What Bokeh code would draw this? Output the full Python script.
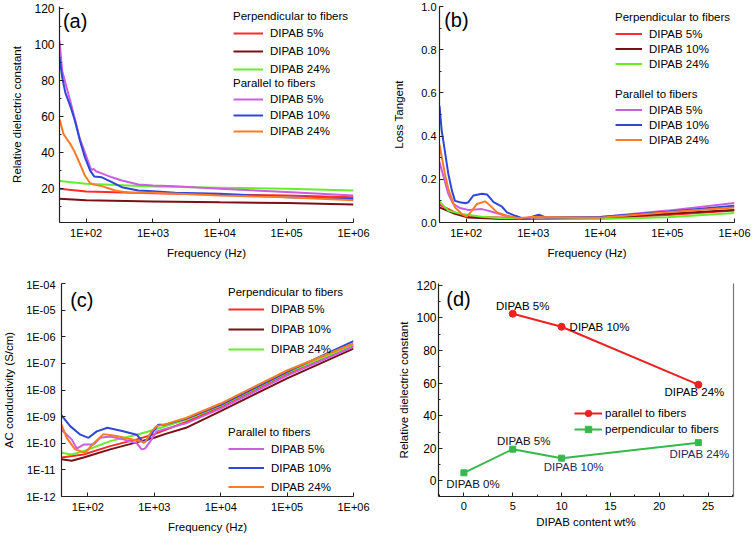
from bokeh.plotting import figure
from bokeh.models import (Range1d, FixedTicker, SingleIntervalTicker, CustomJSTickFormatter,
                          PrintfTickFormatter, Legend, LegendItem, Label, LinearAxis, ColumnDataSource)
from bokeh.layouts import column, row
from bokeh.embed import file_html
from bokeh.resources import INLINE
from bokeh.core.properties import value

FONT = "Liberation Sans"

# ---------------- data ----------------
freq_ticks = [1e2, 1e3, 1e4, 1e5, 1e6]
cond_ticks = [1e-12, 1e-11, 1e-10, 1e-9, 1e-8, 1e-7, 1e-6, 1e-5, 1e-4]

# (a) relative dielectric constant vs frequency
a_perp_freq = [40, 100, 1000, 1e4, 1e5, 1e6]
a_perp_5 = [19.7, 18.2, 17.3, 16.6, 16.0, 15.0]
a_perp_10 = [14.2, 13.3, 12.7, 12.2, 11.8, 11.0]
a_perp_24 = [24.0, 22.5, 21.0, 20.3, 19.7, 18.8]

a_par5_freq = [40, 44, 58, 81, 96, 115, 122, 130, 140, 172, 243, 342, 605, 1000, 2150, 1e4, 1e5, 1e6]
a_par_5 = [102, 85, 68.5, 47.3, 40, 31.7, 30.2, 30.8, 29.5, 28.3, 26.1, 24.3, 22.1, 21.5, 21.2, 19.7, 17.9, 16.0]
a_par10_freq = [40, 44, 49, 58, 68, 81, 96, 115, 133, 172, 243, 342, 605, 1000, 2150, 1e4, 1e5, 1e6]
a_par_10 = [93, 81.4, 73, 65.7, 57.5, 46.4, 37.2, 29.8, 26.5, 26.1, 23.4, 20.6, 18.8, 18.4, 17.5, 17.0, 15.0, 14.0]
a_par24_freq = [40, 46, 58, 68, 81, 96, 115, 135, 172, 272, 430, 1000, 1e4, 1e5, 1e6]
a_par_24 = [58.4, 50.1, 44.6, 40.0, 33.5, 27.1, 22.8, 21.9, 21.2, 18.8, 17.5, 17.5, 16.0, 15.0, 13.3]

# (b) loss tangent vs frequency
b_perp5_freq = [40, 68, 108, 1000, 1e4, 1e5, 1e6]
b_perp_5 = [0.083, 0.047, 0.027, 0.020, 0.020, 0.035, 0.055]
b_perp10_freq = [40, 68, 108, 342, 1000, 1e4, 1e5, 1e6]
b_perp_10 = [0.070, 0.040, 0.023, 0.016, 0.016, 0.020, 0.040, 0.058]
b_perp24_freq = [40, 54, 86, 172, 342, 1000, 1e4, 1e5, 1e6]
b_perp_24 = [0.098, 0.055, 0.039, 0.027, 0.020, 0.018, 0.016, 0.024, 0.044]

b_par5_freq = [40, 54, 64, 81, 108, 172, 242, 384, 681, 1000, 1e4, 1e5, 1e6]
b_par_5 = [0.28, 0.133, 0.086, 0.067, 0.058, 0.062, 0.050, 0.031, 0.020, 0.022, 0.025, 0.055, 0.090]
b_par10_freq = [40, 43, 54, 61, 68, 81, 97, 108, 128, 172, 204, 256, 342, 406, 541, 722, 964, 1212, 1530,
                1e4, 1e5, 1e6]
b_par_10 = [0.54, 0.43, 0.227, 0.15, 0.10, 0.094, 0.089, 0.094, 0.125, 0.133, 0.130, 0.094, 0.073, 0.047,
            0.031, 0.016, 0.027, 0.036, 0.023, 0.025, 0.050, 0.078]
b_par24_freq = [40, 48, 54, 68, 86, 102, 122, 145, 192, 229, 288, 406, 606, 964, 1e4, 1e5, 1e6]
b_par_24 = [0.36, 0.227, 0.156, 0.070, 0.039, 0.027, 0.055, 0.086, 0.098, 0.078, 0.047, 0.031, 0.020,
            0.025, 0.022, 0.047, 0.070]

# (c) AC conductivity vs frequency
c_perp5_freq = [40, 86, 216, 543, 1000, 3000, 1e4, 1e5, 1e6]
c_perp_5 = [2.9e-11, 3.8e-11, 7.8e-11, 1.4e-10, 2.2e-10, 6.3e-10, 2.3e-9, 4.0e-8, 4.6e-7]
c_perp10_freq = [40, 57, 86, 216, 800, 1000, 1440, 3000, 1e4, 1e5, 1e6]
c_perp_10 = [2.5e-11, 2.2e-11, 2.9e-11, 5.9e-11, 1.4e-10, 1.6e-10, 2.2e-10, 3.8e-10, 1.6e-9, 2.75e-8, 3.6e-7]
c_perp24_freq = [40, 57, 86, 216, 543, 1000, 3000, 1e4, 1e5, 1e6]
c_perp_24 = [4.4e-11, 3.8e-11, 5.0e-11, 1.2e-10, 2.1e-10, 3.2e-10, 7.6e-10, 2.6e-9, 4.5e-8, 5.0e-7]

c_par5_freq = [40, 57, 68, 86, 122, 153, 216, 340, 543, 645, 725, 910, 1080, 3000, 1e4, 1e5, 1e6]
c_par_5 = [3.2e-10, 1.4e-10, 6.3e-11, 8.9e-11, 8.9e-11, 1.6e-10, 1.8e-10, 1.4e-10, 1.0e-10, 5.9e-11,
           6.3e-11, 1.4e-10, 2.8e-10, 5.6e-10, 2.0e-9, 3.5e-8, 4.2e-7]
c_par10_freq = [40, 54, 77, 102, 136, 197, 340, 543, 683, 814, 966, 1150, 1440, 3000, 1e4, 1e5, 1e6]
c_par_10 = [1.12e-9, 4.4e-10, 2.1e-10, 1.6e-10, 2.8e-10, 3.8e-10, 2.8e-10, 2.1e-10, 1.05e-10, 1.4e-10,
            2.8e-10, 5.0e-10, 5.0e-10, 8.3e-10, 2.75e-9, 4.8e-8, 6.8e-7]
c_par24_freq = [40, 48, 64, 91, 122, 172, 257, 431, 607, 725, 910, 1080, 1400, 3000, 1e4, 1e5, 1e6]
c_par_24 = [5.0e-10, 1.6e-10, 5.9e-11, 4.4e-11, 1.0e-10, 2.2e-10, 1.9e-10, 1.45e-10, 1.2e-10, 1.1e-10,
            2.8e-10, 4.4e-10, 5.0e-10, 8.9e-10, 3.1e-9, 5.4e-8, 5.6e-7]

# (d) relative dielectric constant vs DIPAB content
d_par_content = [5, 10, 24]
d_par_value = [102.5, 94.5, 59]
d_perp_content = [0, 5, 10, 24]
d_perp_value = [5, 19.5, 14, 23.5]

series_names = ["DIPAB 5%", "DIPAB 10%", "DIPAB 24%"]

# ---------------- styles ----------------
C_RED = "#ff2b2b"
C_DRED = "#7a1016"
C_GREEN = "#66ee2a"
C_VIOLET = "#cc5ee0"
C_BLUE = "#2f47d8"
C_ORANGE = "#ff7a26"
AX = "#222222"


def style(p, ylab_standoff, ytitle_standoff, xlab_standoff=4, xtitle_standoff=5):
    for ax in list(p.xaxis) + list(p.yaxis):
        ax.major_tick_in = 4
        ax.major_tick_out = 0
        ax.minor_tick_in = 2
        ax.minor_tick_out = 0
        ax.axis_line_color = AX
        ax.axis_line_width = 1.2
        ax.major_tick_line_color = AX
        ax.minor_tick_line_color = AX
        ax.major_label_text_font = FONT
        ax.major_label_text_font_size = "11px"
        ax.major_label_text_color = "black"
        ax.axis_label_text_font = FONT
        ax.axis_label_text_font_size = "11.5px"
        ax.axis_label_text_font_style = "normal"
        ax.axis_label_text_color = "black"
    for ax in p.xaxis:
        ax.major_label_standoff = xlab_standoff
        ax.axis_label_standoff = xtitle_standoff
    for ax in p.yaxis:
        ax.major_label_standoff = ylab_standoff
        ax.axis_label_standoff = ytitle_standoff
    p.grid.visible = False
    p.outline_line_color = None


def make_fig(w, h, bl, br, bt, bb, **kw):
    p = figure(width=w, height=h, output_backend="svg", toolbar_location=None,
               min_border_left=bl, min_border_right=br, min_border_top=bt, min_border_bottom=bb, **kw)
    return p


def add_legend(p, title, renderers, vx, vy, row_h, glyph_w, title_standoff=2, standoff=7):
    items = [LegendItem(label=n, renderers=[r]) for n, r in zip(series_names, renderers)]
    lg = Legend(title=title, items=items, location=(vx, vy), orientation="vertical",
                glyph_width=glyph_w, glyph_height=row_h, label_height=row_h, spacing=0,
                padding=0, margin=0, label_standoff=standoff,
                label_text_font=FONT, label_text_font_size="11.5px", label_text_color="black",
                title_text_font=FONT, title_text_font_size="11.5px", title_text_font_style="normal",
                title_text_color="black", title_standoff=title_standoff,
                background_fill_alpha=0, border_line_alpha=0)
    p.add_layout(lg)


def exp_formatter():
    return CustomJSTickFormatter(code="""
        const e = Math.round(Math.log10(tick));
        const s = Math.abs(e).toString().padStart(2, "0");
        return "1E" + (e < 0 ? "-" : "+") + s;
    """)


def panel_label(p, text, x, y):
    p.add_layout(Label(x=x, y=y, text=text, text_font=FONT, text_font_size="20px",
                       text_baseline="top", text_align="left", text_color="black"))


LW = 2
H1 = 278
H2 = 257

# ---------------- (a) ----------------
pa = make_fig(376, H1, 59, 23, 6, 56, x_axis_type="log",
              x_range=Range1d(40, 1e6), y_range=Range1d(1, 121))
ra = [pa.line(a_perp_freq, a_perp_5, line_color=C_RED, line_width=LW),
      pa.line(a_perp_freq, a_perp_10, line_color=C_DRED, line_width=LW),
      pa.line(a_perp_freq, a_perp_24, line_color=C_GREEN, line_width=LW)]
rb = [pa.line(a_par5_freq, a_par_5, line_color=C_VIOLET, line_width=LW),
      pa.line(a_par10_freq, a_par_10, line_color=C_BLUE, line_width=LW),
      pa.line(a_par24_freq, a_par_24, line_color=C_ORANGE, line_width=LW)]
style(pa, 5, 8)
pa.yaxis.major_label_text_font_size = "12px"
pa.xaxis.ticker = FixedTicker(ticks=freq_ticks, minor_ticks=[])
pa.xaxis.formatter = exp_formatter()
pa.yaxis.ticker = SingleIntervalTicker(interval=20, num_minor_ticks=2)
pa.xaxis.axis_label = "Frequency (Hz)"
pa.yaxis.axis_label = "Relative dielectric constant"
add_legend(pa, "Perpendicular to fibers", ra, 174, 144, 18, 30)
add_legend(pa, "Parallel to fibers", rb, 174, 83, 16, 30)
panel_label(pa, "(a)", 45, 119)

# ---------------- (b) ----------------
pb = make_fig(376, H1, 63, 18, 6, 56, x_axis_type="log",
              x_range=Range1d(40, 1e6), y_range=Range1d(0, 1.0))
rb1 = [pb.line(b_perp5_freq, b_perp_5, line_color=C_RED, line_width=LW),
       pb.line(b_perp10_freq, b_perp_10, line_color=C_DRED, line_width=LW),
       pb.line(b_perp24_freq, b_perp_24, line_color=C_GREEN, line_width=LW)]
rb2 = [pb.line(b_par5_freq, b_par_5, line_color=C_VIOLET, line_width=LW),
       pb.line(b_par10_freq, b_par_10, line_color=C_BLUE, line_width=LW),
       pb.line(b_par24_freq, b_par_24, line_color=C_ORANGE, line_width=LW)]
style(pb, 3, 13)
pb.xaxis.ticker = FixedTicker(ticks=freq_ticks, minor_ticks=[])
pb.xaxis.formatter = exp_formatter()
pb.yaxis.ticker = SingleIntervalTicker(interval=0.2, num_minor_ticks=2)
pb.yaxis.formatter = PrintfTickFormatter(format="%.1f")
pb.xaxis.axis_label = "Frequency (Hz)"
pb.yaxis.axis_label = "Loss Tangent"
add_legend(pb, "Perpendicular to fibers", rb1, 176, 151, 15, 27, title_standoff=3)
add_legend(pb, "Parallel to fibers", rb2, 176, 75, 15, 27)
panel_label(pb, "(b)", 47, 0.99)

# ---------------- (c) ----------------
pc = make_fig(376, H2, 59, 23, 5, 38, x_axis_type="log", y_axis_type="log",
              x_range=Range1d(40, 1e6), y_range=Range1d(1e-12, 1e-4))
rc1 = [pc.line(c_perp5_freq, c_perp_5, line_color=C_RED, line_width=LW),
       pc.line(c_perp10_freq, c_perp_10, line_color=C_DRED, line_width=LW),
       pc.line(c_perp24_freq, c_perp_24, line_color=C_GREEN, line_width=LW)]
rc2 = [pc.line(c_par5_freq, c_par_5, line_color=C_VIOLET, line_width=LW),
       pc.line(c_par10_freq, c_par_10, line_color=C_BLUE, line_width=LW),
       pc.line(c_par24_freq, c_par_24, line_color=C_ORANGE, line_width=LW)]
style(pc, 6, 8)
pc.xaxis.ticker = FixedTicker(ticks=freq_ticks, minor_ticks=[])
pc.xaxis.formatter = exp_formatter()
pc.yaxis.ticker = FixedTicker(ticks=cond_ticks, minor_ticks=[])
pc.yaxis.formatter = exp_formatter()
pc.xaxis.axis_label = "Frequency (Hz)"
pc.yaxis.axis_label = "AC conductivity (S/cm)"
add_legend(pc, "Perpendicular to fibers", rc1, 167, 137, 20, 36, title_standoff=1)
add_legend(pc, "Parallel to fibers", rc2, 167, 0, 19, 36, title_standoff=1)
panel_label(pc, "(c)", 54, 6e-5)

# ---------------- (d) ----------------
pd = make_fig(376, H2, 62, 19, 5, 35,
              x_range=Range1d(-2.6, 27.6), y_range=Range1d(-9.5, 121))
C_DRED2 = "#ee2020"
C_DGRN = "#35b84c"
l1 = pd.line(d_par_content, d_par_value, line_color=C_DRED2, line_width=LW)
m1 = pd.scatter(d_par_content, d_par_value, marker="circle", size=7, fill_color=C_DRED2, line_color=C_DRED2)
l2 = pd.line(d_perp_content, d_perp_value, line_color=C_DGRN, line_width=LW)
m2 = pd.scatter(d_perp_content, d_perp_value, marker="square", size=6, fill_color=C_DGRN, line_color=C_DGRN)

par_src = ColumnDataSource(dict(
    x=d_par_content, y=d_par_value,
    text=[f"DIPAB {c}%" for c in d_par_content],
    dx=[10, 8, -4], dy=[-8, 0, 7],
    align=["center", "left", "center"],
    color=["black", "black", "black"]))
perp_src = ColumnDataSource(dict(
    x=d_perp_content, y=d_perp_value,
    text=[f"DIPAB {c}%" for c in d_perp_content],
    dx=[9, 11, 12, 1], dy=[11, -8, 9, 11],
    align=["center", "center", "center", "center"],
    color=["#111111", "#111111", "#1d2a66", "#1d2a66"]))
for src in (par_src, perp_src):
    pd.text(x="x", y="y", text="text", x_offset="dx", y_offset="dy", text_align="align",
            text_baseline="middle", text_color="color", source=src,
            text_font=value(FONT), text_font_size=value("11.5px"))

style(pd, 2, 3, 5, 3)
pd.yaxis.major_label_text_font_size = "12px"
pd.xaxis.ticker = SingleIntervalTicker(interval=5, num_minor_ticks=2)
pd.yaxis.ticker = SingleIntervalTicker(interval=20, num_minor_ticks=2)
pd.xaxis.axis_label = "DIPAB content wt%"
pd.yaxis.axis_label = "Relative dielectric constant"
right_ax = LinearAxis(ticker=FixedTicker(ticks=[]), axis_line_color="#777777", axis_line_width=1.2,
                      major_label_text_font_size="0px", major_tick_line_color=None,
                      minor_tick_line_color=None)
pd.add_layout(right_ax, "right")
lgd = Legend(items=[LegendItem(label="parallel to fibers", renderers=[l1, m1]),
                    LegendItem(label="perpendicular to fibers", renderers=[l2, m2])],
             location=(136, 59), glyph_width=28, glyph_height=16, label_height=16, spacing=0,
             padding=0, margin=0, label_standoff=3,
             label_text_font=FONT, label_text_font_size="11.5px", label_text_color="black",
             background_fill_alpha=0, border_line_alpha=0)
pd.add_layout(lgd)
panel_label(pd, "(d)", -1.8, 118)

layout = column(row(pa, pb), row(pc, pd))
open("out.html", "w").write(file_html(layout, INLINE))
